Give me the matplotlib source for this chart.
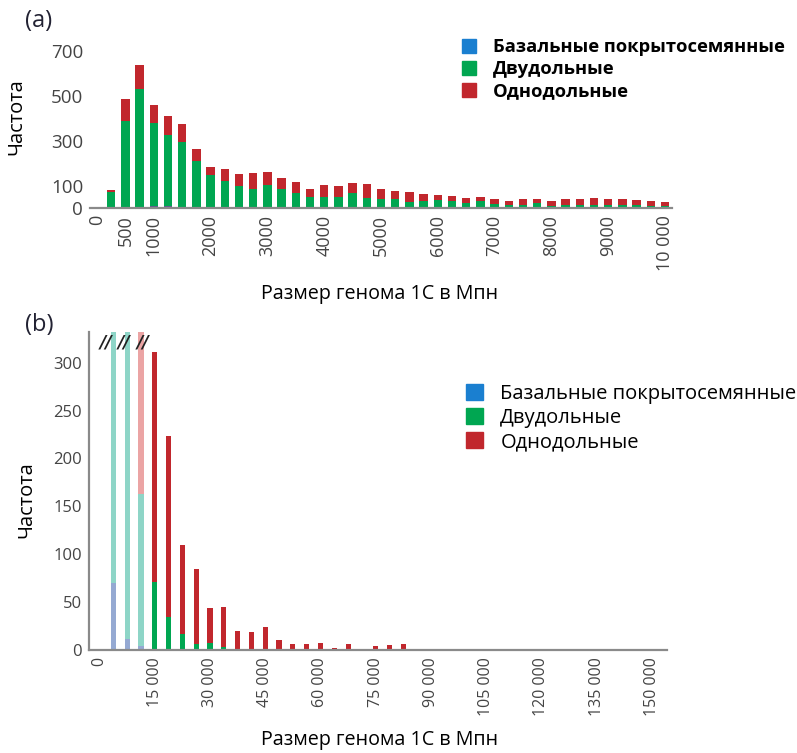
import numpy as np
import matplotlib
matplotlib.use("Agg")
import matplotlib.pyplot as plt
from matplotlib.patches import Patch

plt.rcParams['font.family'] = ['Open Sans', 'DejaVu Sans']

# ---- Data: panel (a), bins of 250 Mbp ----
size_a = [250, 500, 750, 1000, 1250, 1500, 1750, 2000, 2250, 2500,
          2750, 3000, 3250, 3500, 3750, 4000, 4250, 4500, 4750, 5000,
          5250, 5500, 5750, 6000, 6250, 6500, 6750, 7000, 7250, 7500,
          7750, 8000, 8250, 8500, 8750, 9000, 9250, 9500, 9750, 10000]
basal_a = [0, 0, 3, 10, 10, 3, 0, 0, 0, 0,
           0, 0, 0, 0, 0, 0, 0, 0, 0, 0,
           0, 0, 0, 0, 0, 0, 0, 0, 0, 0,
           0, 0, 0, 0, 0, 0, 0, 0, 0, 0]
dicot_a = [71, 390, 528, 371, 314, 292, 208, 146, 122, 98,
           85, 103, 83, 66, 48, 48, 51, 66, 46, 42,
           39, 25, 30, 34, 30, 21, 30, 16, 15, 15,
           21, 10, 12, 12, 15, 12, 12, 15, 7, 7]
mono_a = [9, 97, 107, 80, 85, 80, 54, 36, 51, 55,
          71, 59, 50, 49, 37, 53, 49, 44, 61, 44,
          37, 45, 31, 23, 22, 22, 19, 24, 18, 25,
          18, 23, 28, 28, 28, 30, 27, 19, 24, 21]
xticks_a = [0, 500, 1000, 2000, 3000, 4000, 5000, 6000, 7000, 8000, 9000, 10000]
xtlabels_a = ['0', '500', '1000', '2000', '3000', '4000', '5000', '6000',
              '7000', '8000', '9000', '10 000']
yticks_a = [0, 100, 300, 500, 700]

# ---- Data: panel (b), bins of 3750 Mbp (first three bars are cut) ----
size_b = [3750, 7500, 11250, 15000, 18750, 22500, 26250, 30000, 33750, 37500,
          41250, 45000, 48750, 52500, 56250, 60000, 63750, 67500, 71250, 75000,
          78750, 82500, 86250, 90000, 93750, 97500, 101250, 105000, 108750, 112500,
          116250, 120000, 123750, 127500, 131250, 135000, 138750, 142500, 146250, 150000]
basal_b = [70, 11, 4, 0, 0, 0, 0, 0, 0, 0,
           0, 0, 0, 0, 0, 0, 0, 0, 0, 0,
           0, 0, 0, 0, 0, 0, 0, 0, 0, 0,
           0, 0, 0, 0, 0, 0, 0, 0, 0, 0]
dicot_b = [2900, 520, 159, 71, 34, 17, 6, 7, 3, 0,
           0, 0, 0, 0, 0, 0, 0, 0, 0, 0,
           0, 0, 0, 0, 0, 0, 0, 0, 0, 0,
           0, 0, 0, 0, 0, 0, 0, 0, 0, 0]
mono_b = [1000, 450, 400, 240, 189, 93, 79, 37, 42, 20,
          19, 24, 10, 6, 6, 7, 2, 6, 1, 4,
          5, 6, 1, 1, 1, 0, 0, 1, 0, 1,
          0, 0, 0, 1, 1, 0, 0, 0, 0, 1]
n_cut = 3
xticks_b = [0, 15000, 30000, 45000, 60000, 75000, 90000, 105000, 120000, 135000, 150000]
xtlabels_b = ['0', '15 000', '30 000', '45 000', '60 000', '75 000', '90 000',
              '105 000', '120 000', '135 000', '150 000']
yticks_b = [0, 50, 100, 150, 200, 250, 300]

labels = ['Базальные покрытосемянные', 'Двудольные', 'Однодольные']

# ---- Colours ----
c_basal = '#1a7fd0'
c_dicot = '#00a651'
c_mono = '#c1272d'
c_basal_a = '#5e5b8e'
fade = ['#95a9d2', '#8ed5c7', '#eba4a4']
spine_col = '#8a8a8a'
tick_col = '#444444'

W, H = 797, 753
fig = plt.figure(figsize=(W / 100, H / 100), dpi=100)


def px_axes(left, top, right, bottom):
    return fig.add_axes([left / W, 1 - bottom / H, (right - left) / W, (bottom - top) / H])


# ---- Panel (a) ----
ax = px_axes(90, 45, 672, 208)
bas = np.array(basal_a)
dic = np.array(dicot_a)
mon = np.array(mono_a)
ax.bar(size_a, bas, width=148, color=c_basal_a, linewidth=0)
ax.bar(size_a, dic, width=148, bottom=bas, color=c_dicot, linewidth=0)
ax.bar(size_a, mon, width=148, bottom=bas + dic, color=c_mono, linewidth=0)
ax.set_xlim(-123, 10123)
ax.set_ylim(0, 728)
ax.set_xticks(xticks_a)
ax.set_xticklabels(xtlabels_a, rotation=90, fontsize=13, color=tick_col)
ax.set_yticks(yticks_a)
ax.set_yticklabels([str(v) for v in yticks_a], fontsize=13.5, color=tick_col)
ax.tick_params(length=0, pad=5)
for s in ['top', 'right', 'left']:
    ax.spines[s].set_visible(False)
ax.spines['bottom'].set_color(spine_col)
ax.spines['bottom'].set_linewidth(1.6)

handles = [Patch(color=c) for c in (c_basal, c_dicot, c_mono)]
ax.legend(handles, labels, loc='upper left', bbox_to_anchor=(446 / W, 1 - 22 / H),
          bbox_transform=fig.transFigure, frameon=False, handlelength=0.75,
          handleheight=0.75, handletextpad=0.9, labelspacing=0.21,
          prop={'size': 13.2, 'weight': 'bold'})

fig.text(25 / W, 1 - 21 / H, '(a)', fontsize=17, color='#222233', va='center', ha='left')
fig.text(16 / W, 1 - 117 / H, 'Частота', fontsize=14.5, rotation=90, va='center', ha='center')
fig.text(380 / W, 1 - 294 / H, 'Размер генома 1С в Мпн', fontsize=14.2, va='center', ha='center')

# ---- Panel (b) ----
bx = px_axes(89, 332, 667, 650)
bas = np.array(basal_b)
dic = np.array(dicot_b)
mon = np.array(mono_b)
cols_bas = [fade[0]] * n_cut + [c_basal] * (len(size_b) - n_cut)
cols_dic = [fade[1]] * n_cut + [c_dicot] * (len(size_b) - n_cut)
cols_mon = [fade[2]] * n_cut + [c_mono] * (len(size_b) - n_cut)
bx.bar(size_b, bas, width=1400, color=cols_bas, linewidth=0)
bx.bar(size_b, dic, width=1400, bottom=bas, color=cols_dic, linewidth=0)
bx.bar(size_b, mon, width=1400, bottom=bas + dic, color=cols_mon, linewidth=0)

# break marks on the cut bars
for xb, off in zip(size_b[:n_cut], [-1900, -700, 650]):
    bx.text(xb + off, 321, '//', fontsize=12.5, fontweight='bold', fontstyle='italic',
            color='#222222', ha='center', va='center', family='DejaVu Sans')

bx.set_xlim(-2850, 154100)
bx.set_ylim(0, 332)
bx.set_xticks(xticks_b)
bx.set_xticklabels(xtlabels_b, rotation=90, fontsize=11.5, color=tick_col)
bx.set_yticks(yticks_b)
bx.set_yticklabels([str(v) for v in yticks_b], fontsize=12, color=tick_col)
bx.tick_params(length=0, pad=5)
for s in ['top', 'right']:
    bx.spines[s].set_visible(False)
for s in ['bottom', 'left']:
    bx.spines[s].set_color(spine_col)
    bx.spines[s].set_linewidth(1.6)

bx.legend(handles, labels, loc='upper left', bbox_to_anchor=(448 / W, 1 - 366 / H),
          bbox_transform=fig.transFigure, frameon=False, handlelength=0.85,
          handleheight=0.85, handletextpad=0.85, labelspacing=0.2,
          prop={'size': 14.5})

fig.text(25 / W, 1 - 325 / H, '(b)', fontsize=17, color='#222233', va='center', ha='left')
fig.text(26 / W, 1 - 500 / H, 'Частота', fontsize=14.5, rotation=90, va='center', ha='center')
fig.text(380 / W, 1 - 740 / H, 'Размер генома 1С в Мпн', fontsize=14.2, va='center', ha='center')

fig.savefig('out.png', dpi=100)
